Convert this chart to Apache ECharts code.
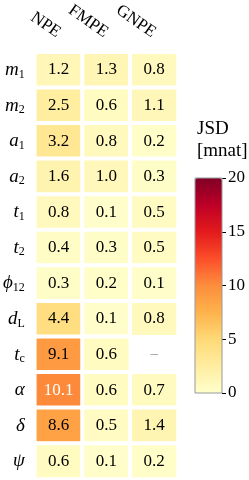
<!DOCTYPE html>
<html><head><meta charset="utf-8">
<script src="https://cdn.jsdelivr.net/npm/echarts@6/dist/echarts.min.js"></script>
<style>html,body{margin:0;padding:0;background:#fff}#c{width:249px;height:480px}</style>
</head><body><div id="c"></div>
<script>
const methods = ['NPE', 'FMPE', 'GNPE'];
const params = ['m1', 'm2', 'a1', 'a2', 't1', 't2', 'phi12', 'dL', 'tc', 'alpha', 'delta', 'psi'];
const npe  = [1.2, 2.5, 3.2, 1.6, 0.8, 0.4, 0.3, 4.4, 9.1, 10.1, 8.6, 0.6];
const fmpe = [1.3, 0.6, 0.8, 1.0, 0.1, 0.3, 0.2, 0.1, 0.6, 0.6, 0.5, 0.1];
const gnpe = [0.8, 1.1, 0.2, 0.3, 0.5, 0.5, 0.1, 0.8, null, 0.7, 1.4, 0.2];
const cbTicks = [0, 5, 10, 15, 20];

const paramLabels = {
  m1: '{i|m}{s|1}', m2: '{i|m}{s|2}', a1: '{i|a}{s|1}', a2: '{i|a}{s|2}',
  t1: '{i|t}{s|1}', t2: '{i|t}{s|2}', phi12: '{i|ϕ}{s|12}', dL: '{i|d}{r|L}',
  tc: '{i|t}{r|c}', alpha: '{i|α}', delta: '{i|δ}', psi: '{i|ψ}'
};

const FONT = '"Liberation Serif", "DejaVu Serif", serif';
const cols = [npe, fmpe, gnpe];
const data = [];
const missing = [];
cols.forEach((arr, xi) => arr.forEach((v, yi) => {
  if (v === null) { missing.push([xi, yi]); return; }
  data.push({ value: [xi, yi, v], label: { color: v >= 10 ? '#fff' : '#000' } });
}));

const chart = echarts.init(document.getElementById('c'), null, { renderer: 'canvas' });
chart.setOption({
  animation: false,
  title: {
    text: 'JSD\n[mnat]', left: 192, top: 113,
    textStyle: { fontFamily: FONT, fontWeight: 'normal', fontSize: 19, lineHeight: 22, color: '#000' }
  },
  grid: [
    { left: 34, top: 51, width: 144, height: 428 },
    { left: 195, top: 178, width: 27, height: 215, show: true, borderColor: '#999', borderWidth: 1, backgroundColor: 'transparent', z: 10 }
  ],
  xAxis: [
    { type: 'category', data: methods, position: 'top', gridIndex: 0,
      axisLine: { show: false }, axisTick: { show: false }, splitLine: { show: false },
      axisLabel: { rotate: 35, margin: 18, fontFamily: FONT, fontSize: 17, color: '#000' } },
    { type: 'category', data: ['c'], gridIndex: 1, show: false }
  ],
  yAxis: [
    { type: 'category', data: params, inverse: true, gridIndex: 0,
      axisLine: { show: false }, axisTick: { show: false }, splitLine: { show: false },
      axisLabel: { margin: 10, color: '#000', formatter: v => paramLabels[v],
        rich: {
          i: { fontFamily: FONT, fontStyle: 'italic', fontSize: 19, color: '#000' },
          s: { fontFamily: FONT, fontSize: 12, color: '#000', padding: [9, 0, 0, 0] },
          r: { fontFamily: FONT, fontSize: 12, color: '#000', padding: [9, 0, 0, 0] }
        } } },
    { type: 'value', gridIndex: 1, min: cbTicks[0], max: cbTicks[cbTicks.length - 1], interval: 5, position: 'right',
      axisLine: { show: false }, splitLine: { show: false },
      axisTick: { show: true, length: 4, lineStyle: { color: '#000', width: 1 } },
      axisLabel: { margin: 6, fontFamily: FONT, fontSize: 17, color: '#000' } }
  ],
  visualMap: {
    type: 'continuous', min: 0, max: 20, seriesIndex: 0, calculable: false,
    orient: 'vertical', left: 195, top: 178, itemWidth: 27, itemHeight: 215,
    padding: 0, text: null, showLabel: false, realtime: false, hoverLink: false,
    inRange: { color: ['#ffffcc', '#ffeda0', '#fed976', '#feb24c', '#fd8d3c', '#fc4e2a', '#e31a1c', '#bd0026', '#800026'] }
  },
  series: [
    { type: 'heatmap', xAxisIndex: 0, yAxisIndex: 0, data: data,
      itemStyle: { borderColor: '#fff', borderWidth: 4 },
      label: { show: true, fontFamily: FONT, fontSize: 17, formatter: p => p.value[2].toFixed(1) },
      emphasis: { disabled: true } },
    { type: 'scatter', xAxisIndex: 0, yAxisIndex: 0, data: missing, symbolSize: 0,
      label: { show: true, position: 'inside', formatter: '–', fontFamily: FONT, fontSize: 15, color: '#777' } }
  ]
});
</script>
</body></html>
